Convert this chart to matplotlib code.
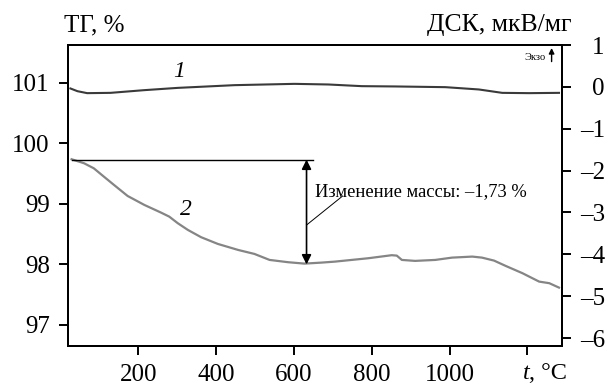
import matplotlib
matplotlib.use("Agg")
import matplotlib.pyplot as plt

plt.rcParams["font.family"] = ["Liberation Serif", "DejaVu Serif"]

# TG curve (mass, %) vs temperature
tg_t = [28, 60, 85, 111, 137, 172, 215, 258, 279, 301, 327, 361, 404, 456, 498,
        537, 585, 627, 671, 705, 791, 851, 864, 877, 911, 963, 1006, 1058, 1083,
        1114, 1144, 1187, 1230, 1256, 1281]
tg_mass = [99.736, 99.670, 99.587, 99.449, 99.312, 99.130, 98.982, 98.855, 98.789,
           98.680, 98.569, 98.449, 98.338, 98.239, 98.173, 98.074, 98.036, 98.013,
           98.030, 98.046, 98.102, 98.152, 98.145, 98.074, 98.058, 98.074, 98.112,
           98.129, 98.112, 98.063, 97.975, 97.855, 97.716, 97.690, 97.617]

# DSC curve (µV/mg) vs temperature
dsc_t = [25, 43, 68, 128, 214, 301, 447, 601, 688, 774, 860, 989, 1075, 1135, 1204, 1281]
dsc_val = [-0.038, -0.103, -0.150, -0.143, -0.079, -0.024, 0.041, 0.072, 0.057,
           0.017, 0.010, -0.007, -0.062, -0.143, -0.150, -0.143]

# Mass change marker
mass_start = 99.73
mass_change = -1.73
ref_t_start, ref_t_end = 28, 649
arrow_t = 632

x_ticks = [200, 400, 600, 800, 1000, 1200]
x_labels = ["200", "400", "600", "800", "1000", ""]
tg_ticks = [97, 98, 99, 100, 101]
dsc_ticks = [1, 0, -1, -2, -3, -4, -5, -6]

fig = plt.figure(figsize=(6.11, 3.85), dpi=100)
ax = fig.add_axes([0.1108, 0.1013, 0.8098, 0.7818])
ax2 = ax.twinx()

ax.set_xlim(18, 1290)
ax.set_ylim(96.653, 101.622)
ax2.set_ylim(-6.19, 1.0)

for a in (ax, ax2):
    for s in a.spines.values():
        s.set_linewidth(1.4)

ax.set_xticks(x_ticks)
ax.set_xticklabels(x_labels)
ax.set_yticks(tg_ticks)
ax.set_yticklabels([str(v) for v in tg_ticks])
ax.tick_params(axis="both", direction="out", length=6.5, width=1.4,
               labelsize=18, pad=6.5)

ax2.set_yticks(dsc_ticks)
ax2.set_yticklabels([str(v).replace("-", "–") for v in dsc_ticks])
ax2.tick_params(axis="y", direction="out", length=6.5, width=1.4,
                labelsize=18, pad=24)
for lbl in ax2.get_yticklabels():
    lbl.set_horizontalalignment("right")

# Curves
ax2.plot(dsc_t, dsc_val, color="#3a3a3a", lw=1.5)
ax.plot(tg_t, tg_mass, color="#858585", lw=1.6)

# Mass change reference line and double arrow
ax.plot([ref_t_start, ref_t_end], [mass_start, mass_start], color="black", lw=1.0)
ax.annotate("", xy=(arrow_t, mass_start + mass_change), xytext=(arrow_t, mass_start),
            arrowprops=dict(arrowstyle="<|-|>", color="black", lw=1.2,
                            mutation_scale=14, shrinkA=0, shrinkB=0))
ax.plot([arrow_t, 725], [98.65, 99.13], color="black", lw=0.7)
ax.text(653, 99.20, "Изменение массы: –1,73 %", fontsize=13.3,
        ha="left", va="center")

# Curve numbers
ax.text(304, 101.18, "1", fontsize=17, style="italic", ha="center", va="center")
ax.text(322, 98.90, "2", fontsize=17, style="italic", ha="center", va="center")

# Exo direction mark
ax.text(0.965, 0.95, "Экзо", transform=ax.transAxes, fontsize=7.5,
        ha="right", va="baseline")
ax.annotate("", xy=(0.978, 0.99), xytext=(0.978, 0.945), xycoords="axes fraction",
            arrowprops=dict(arrowstyle="-|>", color="black", lw=1.0,
                            mutation_scale=8, shrinkA=0, shrinkB=0))

# Axis titles
fig.text(0.105, 0.935, "ТГ, %", fontsize=18, ha="left", va="center")
fig.text(0.936, 0.935, "ДСК, мкВ/мг", fontsize=18.5, ha="right", va="center")

# x-axis unit label in place of the last tick label: italic t, then ", °C"
ax.annotate("t", xy=(1205, 0), xycoords=("data", "axes fraction"),
            xytext=(0, -23.5), textcoords="offset points",
            ha="right", va="baseline", fontsize=17.5, style="italic")
ax.annotate(", °C", xy=(1205, 0), xycoords=("data", "axes fraction"),
            xytext=(0, -23.5), textcoords="offset points",
            ha="left", va="baseline", fontsize=17.5)

fig.savefig("out.png", dpi=100)
